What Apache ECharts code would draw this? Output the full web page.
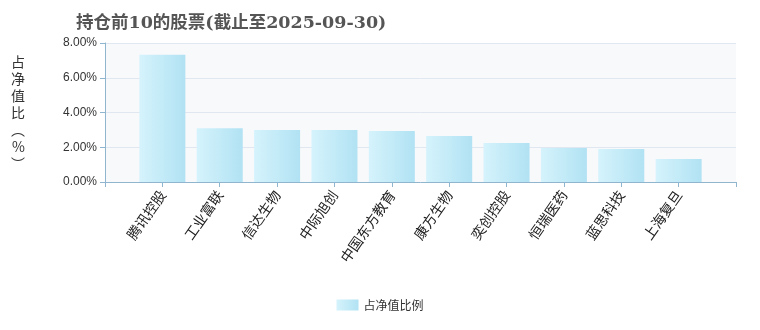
<!DOCTYPE html>
<html><head><meta charset="utf-8">
<script src="https://cdn.jsdelivr.net/npm/echarts@6/dist/echarts.min.js"></script>
<style>html,body{margin:0;padding:0;background:#fff}#c{width:760px;height:330px}</style>
</head><body><div id="c"></div>
<script>
var categories = ['腾讯控股','工业富联','信达生物','中际旭创','中国东方教育','康方生物','奕创控股','恒瑞医药','蓝思科技','上海复旦'];
var values = [7.33, 3.10, 2.99, 2.99, 2.93, 2.65, 2.25, 1.96, 1.90, 1.33];
var yTicks = [0, 2, 4, 6, 8];
var seriesName = '占净值比例';
var titleText = '持仓前10的股票(截止至2025-09-30)';
var yName = ['占','净','值','比','︵','%','︶'];

// padded category slots: empty slot at each end (axis drawn with boundaryGap false)
var axisCats = [''].concat(categories, ['']);
var axisVals = [null].concat(values, [null]);

var chart = echarts.init(document.getElementById('c'));
var grad = new echarts.graphic.LinearGradient(0, 0, 1, 0, [
  {offset: 0, color: '#d5f3fc'}, {offset: 1, color: '#b1e2f3'}
]);
chart.setOption({
  animation: false,
  title: {
    text: titleText, left: 71, top: 10,
    textStyle: {fontSize: 17.5, fontWeight: 'bold', color: '#555', fontFamily: "'DejaVu Serif','Noto Sans CJK SC'"}
  },
  legend: {
    bottom: 14, left: 'center', itemWidth: 22, itemHeight: 11,
    textStyle: {fontSize: 12, color: '#333', fontFamily: 'Noto Sans CJK SC'},
    data: [{name: seriesName, icon: 'rect'}]
  },
  grid: {left: 105, right: 24, top: 43, bottom: 148, backgroundColor: '#f8f9fb', show: true, borderWidth: 0},
  xAxis: {
    type: 'category', data: axisCats, boundaryGap: false,
    axisLine: {lineStyle: {color: '#8fb5cf', width: 1}},
    axisTick: {lineStyle: {color: '#8fb5cf'}, interval: 0},
    splitLine: {show: false},
    axisLabel: {rotate: 55, fontSize: 14, color: '#222', interval: 0, margin: 10, fontFamily: 'Noto Sans CJK SC'}
  },
  yAxis: {
    type: 'value', min: yTicks[0], max: yTicks[yTicks.length-1], interval: 2,
    name: yName.join('\n'), nameLocation: 'middle', nameRotate: 0, nameGap: 80,
    nameTextStyle: {fontSize: 14, color: '#333', lineHeight: 17, fontFamily: 'Noto Sans CJK SC'},
    axisLine: {show: true, lineStyle: {color: '#8fb5cf'}},
    axisTick: {show: true, lineStyle: {color: '#8fb5cf'}},
    splitLine: {lineStyle: {color: '#e1e7f0'}},
    axisLabel: {fontSize: 12, color: '#333', fontFamily: 'Liberation Sans', formatter: function(v){return v.toFixed(2)+'%';}}
  },
  series: [{
    name: seriesName, type: 'bar', data: axisVals, barWidth: 46,
    itemStyle: {color: grad}
  }]
});
</script></body></html>
